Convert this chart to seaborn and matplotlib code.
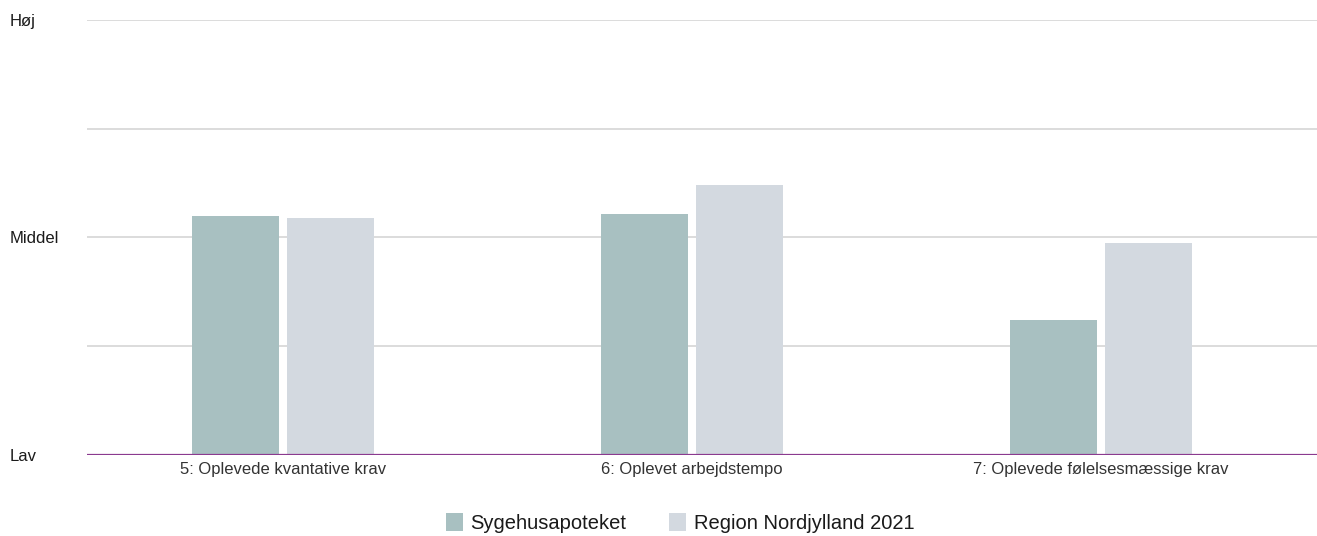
import matplotlib
matplotlib.use("Agg")
import matplotlib.pyplot as plt
import seaborn as sns
import pandas as pd
from matplotlib.patches import Patch

categories = ["5: Oplevede kvantative krav", "6: Oplevet arbejdstempo", "7: Oplevede følelsesmæssige krav"]
series_names = ["Sygehusapoteket", "Region Nordjylland 2021"]
sygehus = [55.0, 55.4, 31.0]
region = [54.5, 62.1, 48.7]
ytick_vals = [0, 25, 50, 75, 100]
ytick_labels = ["Lav", "", "Middel", "", "Høj"]
colors = ["#A8C0C1", "#D3D9E0"]

df = pd.DataFrame({
    "kategori": categories * 2,
    "serie": [series_names[0]] * 3 + [series_names[1]] * 3,
    "værdi": sygehus + region,
})

sns.set_theme(style="white")
plt.rcParams["font.family"] = ["Liberation Sans", "DejaVu Sans"]

fig = plt.figure(figsize=(13.17, 5.36), dpi=100)
ax = fig.add_axes([87 / 1317, 1 - 455 / 536, 1 - 87 / 1317, (455 - 20) / 536])

sns.barplot(data=df, x="kategori", y="værdi", hue="serie", order=categories,
            hue_order=series_names, palette=colors, width=0.463, gap=0.084,
            saturation=1, ax=ax, legend=False, zorder=3, linewidth=0, edgecolor="none")

ax.set_ylim(0, 100)
ax.set_xlim(-0.479, 2.528)
ax.set_yticks(ytick_vals)
ax.set_yticklabels(ytick_labels, ha="left")
ax.tick_params(axis="y", length=0, pad=56, labelsize=12, labelcolor="#1a1a1a")
ax.tick_params(axis="x", length=0, pad=5, labelsize=12, labelcolor="#333333")
ax.set_xlabel("")
ax.set_ylabel("")
for v in ytick_vals[1:]:
    ax.axhline(v, color="#D9D9D9", lw=1.3, zorder=1)
ax.axhline(0, color="#8B3A8F", lw=1.6, zorder=4)
for s in ax.spines.values():
    s.set_visible(False)

handles = [Patch(facecolor=c, edgecolor="none") for c in colors]
fig.legend(handles, series_names, loc="center", bbox_to_anchor=(680 / 1317, 1 - 523 / 536),
           ncol=2, frameon=False, fontsize=14.5, handlelength=0.85, handleheight=0.95,
           handletextpad=0.35, columnspacing=2.15, labelcolor="#1a1a1a")

fig.savefig("out.png", dpi=100)
